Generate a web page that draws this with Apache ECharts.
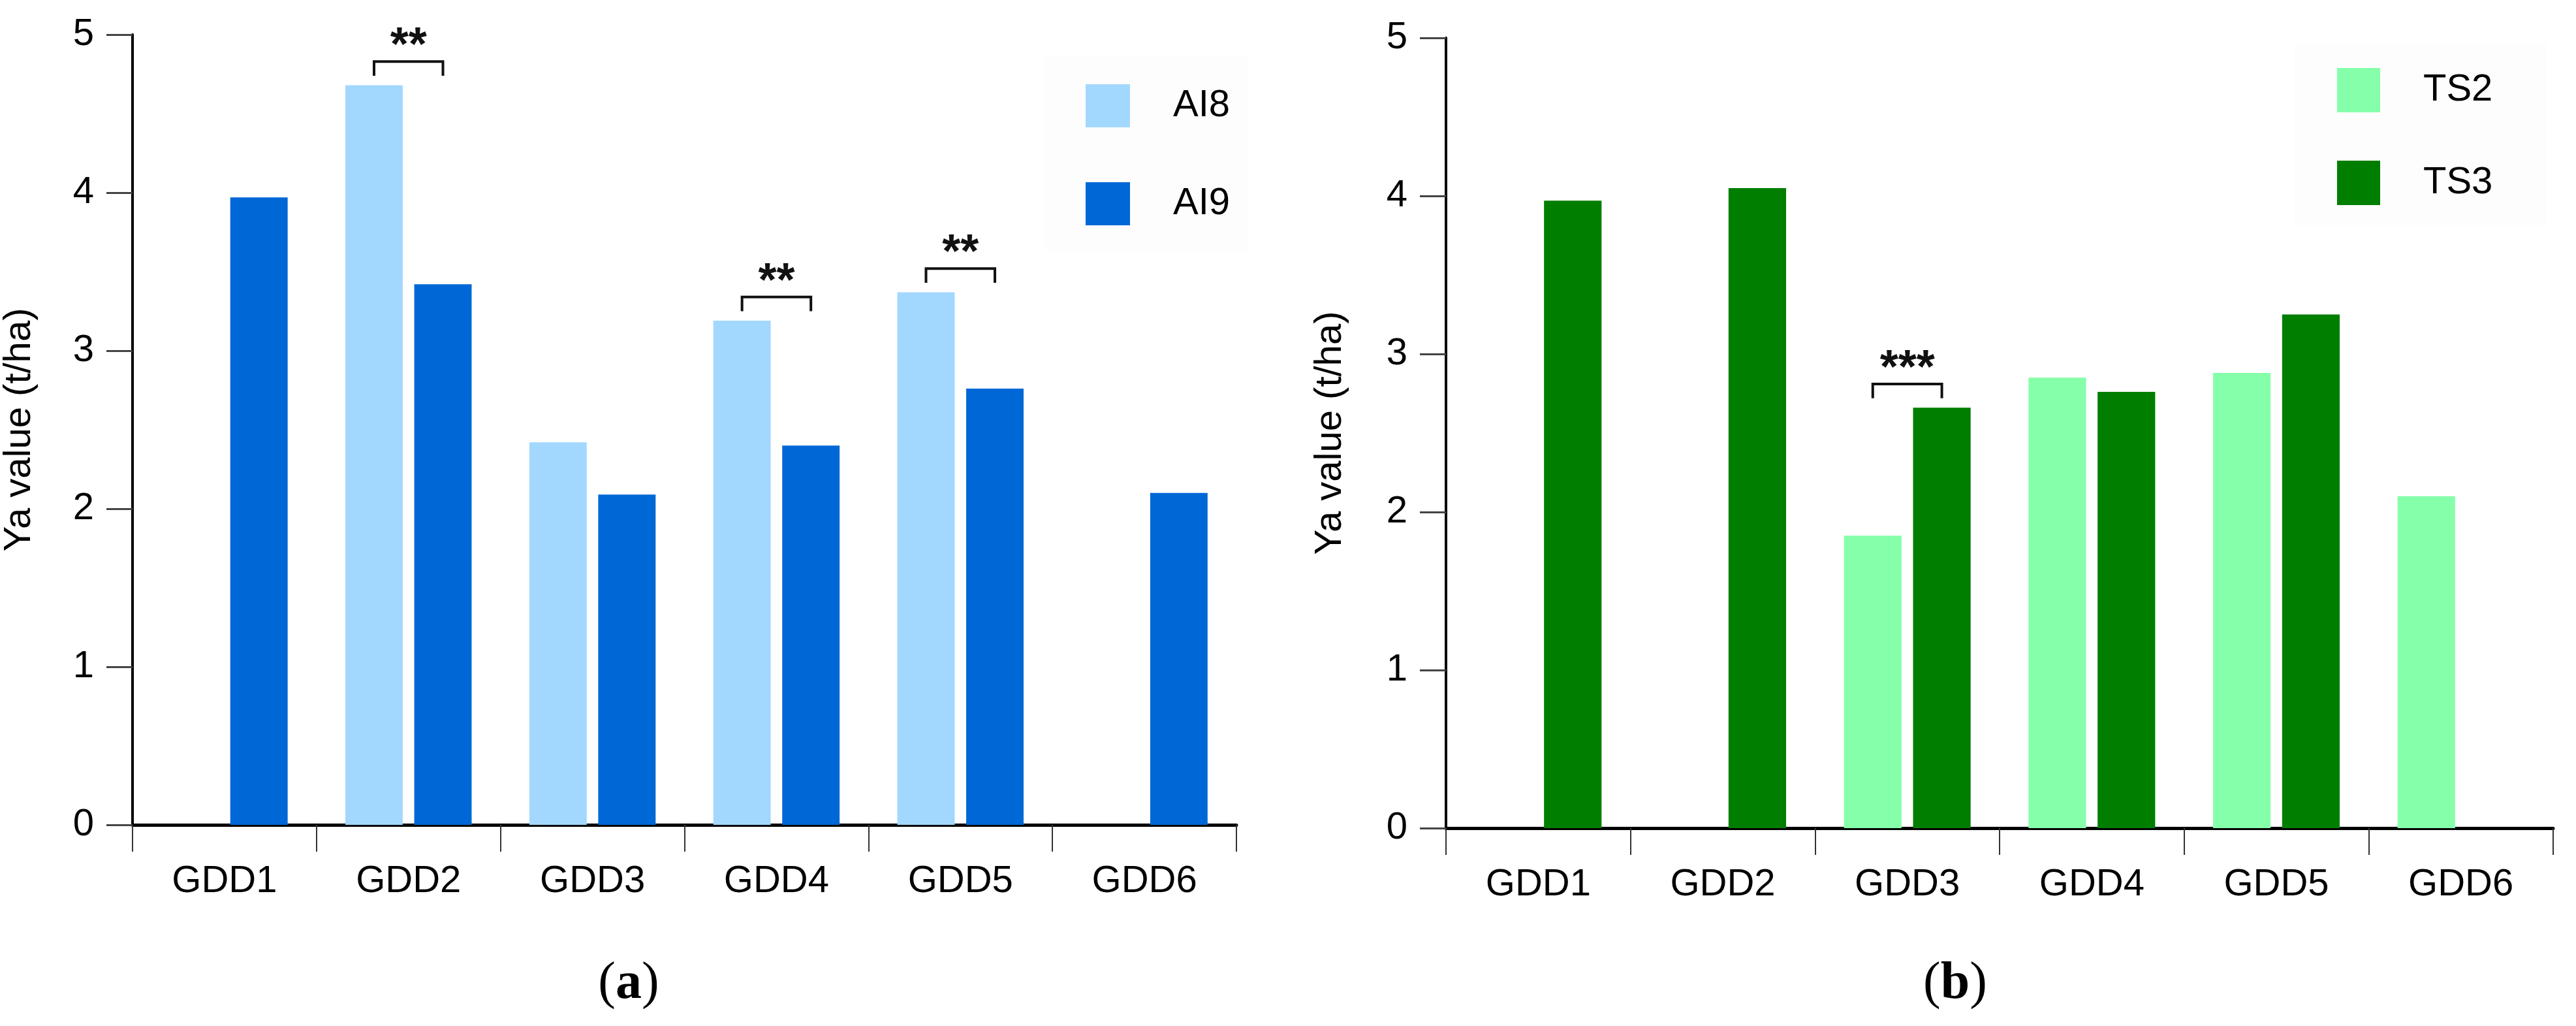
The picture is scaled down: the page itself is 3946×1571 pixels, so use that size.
<!DOCTYPE html>
<html>
<head>
<meta charset="utf-8">
<script src="https://cdn.jsdelivr.net/npm/echarts@6/dist/echarts.min.js"></script>
<style>
  html, body { margin: 0; padding: 0; background: #fff; }
  #chart { width: 3946px; height: 1571px; }
</style>
</head>
<body>
<div id="chart"></div>
<script>
// values
const categories = ['GDD1', 'GDD2', 'GDD3', 'GDD4', 'GDD5', 'GDD6'];
const ai8 = [null, 4.68, 2.42, 3.19, 3.37, null];
const ai9 = [3.97, 3.42, 2.09, 2.40, 2.76, 2.10];
const ts2 = [null, null, 1.85, 2.85, 2.88, 2.10];
const ts3 = [3.97, 4.05, 2.66, 2.76, 3.25, null];
const yTicks = [0, 1, 2, 3, 4, 5];
// significance brackets: [category index, stars]
const sigA = [[1, '**'], [3, '**'], [4, '**']];
const sigB = [[2, '***']];

const FONT = '"Liberation Sans", Arial, sans-serif';
const BAR_W = 0.312;   // bar width as share of category
const BAR_GAP = 0.2;

const chart = echarts.init(document.getElementById('chart'));

function xAxisOf(idx) {
    return {
        type: 'category',
        gridIndex: idx,
        data: categories,
        boundaryGap: true,
        axisLine: { lineStyle: { color: '#000', width: 5 } },
        axisTick: { show: true, length: 41, lineStyle: { color: '#333', width: 2 } },
        axisLabel: { margin: 58, fontSize: 58, color: '#000', fontFamily: FONT },
        splitLine: { show: false }
    };
}

function yAxisOf(idx, gap) {
    return {
        type: 'value',
        gridIndex: idx,
        min: yTicks[0],
        max: yTicks[yTicks.length - 1],
        interval: yTicks[1] - yTicks[0],
        name: 'Ya value (t/ha)',
        nameLocation: 'middle',
        nameRotate: 90,
        nameGap: gap,
        nameTextStyle: { fontSize: 58, color: '#000', fontFamily: FONT },
        axisLine: { show: true, lineStyle: { color: '#000', width: 4 } },
        axisTick: { show: true, length: 40, lineStyle: { color: '#444', width: 3 } },
        axisLabel: { margin: 59, fontSize: 58, color: '#000', fontFamily: FONT },
        splitLine: { show: false }
    };
}

// bracket + stars drawn from the bar values
function bracketSeries(idx, sig, a, b) {
    return {
        type: 'custom',
        xAxisIndex: idx,
        yAxisIndex: idx,
        clip: false,
        silent: true,
        data: sig.map(s => [s[0], Math.max(a[s[0]] || 0, b[s[0]] || 0)]),
        renderItem: function (params, api) {
            const cat = api.value(0);
            const top = api.value(1);
            const bw = api.size([1, 0])[0] * BAR_W;
            const off = bw * (1 + BAR_GAP) / 2;
            const cx = api.coord([cat, top])[0];
            const legY = api.coord([cat, top + 0.06])[1];
            const barY = api.coord([cat, top + 0.15])[1];
            const starY = api.coord([cat, top + 0.24])[1];
            return {
                type: 'group',
                children: [{
                    type: 'polyline',
                    shape: { points: [[cx - off, legY], [cx - off, barY], [cx + off, barY], [cx + off, legY]] },
                    style: { stroke: '#111', lineWidth: 4, fill: null }
                }, {
                    type: 'text',
                    x: cx,
                    y: starY,
                    style: {
                        text: sig[params.dataIndex][1],
                        font: 'bold 72px ' + FONT,
                        fill: '#111',
                        align: 'center',
                        verticalAlign: 'middle'
                    }
                }]
            };
        }
    };
}

function barSeries(name, data, color, idx) {
    return {
        name: name,
        type: 'bar',
        xAxisIndex: idx,
        yAxisIndex: idx,
        data: data,
        barWidth: (BAR_W * 100) + '%',
        barGap: (BAR_GAP * 100) + '%',
        itemStyle: { color: color }
    };
}

const option = {
    backgroundColor: '#fff',
    animation: false,
    grid: [
        { left: 199, right: 2052, top: 53, bottom: 308 },
        { left: 2215, right: 35, top: 58, bottom: 303 }
    ],
    xAxis: [xAxisOf(0), xAxisOf(1)],
    yAxis: [yAxisOf(0, 144), yAxisOf(1, 148)],
    legend: [{
        data: ['AI8', 'AI9'],
        orient: 'vertical',
        left: 1600,
        top: 85,
        padding: [44, 28, 39, 63],
        backgroundColor: '#fdfdfd',
        icon: 'rect',
        itemWidth: 68,
        itemHeight: 66,
        itemGap: 84,
        textStyle: { fontSize: 58, color: '#000', fontFamily: FONT, padding: [0, 0, 0, 61] }
    }, {
        data: ['TS2', 'TS3'],
        orient: 'vertical',
        left: 3514,
        top: 67,
        padding: [37, 82, 31, 66],
        backgroundColor: '#fdfdfd',
        icon: 'rect',
        itemWidth: 66,
        itemHeight: 68,
        itemGap: 74,
        textStyle: { fontSize: 58, color: '#000', fontFamily: FONT, padding: [0, 0, 0, 61] }
    }],
    graphic: [{
        type: 'text',
        x: 963,
        y: 1507,
        style: {
            text: '({b|a})',
            font: '80px "Liberation Serif", serif',
            fill: '#000',
            align: 'center',
            verticalAlign: 'middle',
            rich: { b: { fontWeight: 'bold', fontSize: 80, fontFamily: '"Liberation Serif", serif' } }
        }
    }, {
        type: 'text',
        x: 2995,
        y: 1507,
        style: {
            text: '({b|b})',
            font: '80px "Liberation Serif", serif',
            fill: '#000',
            align: 'center',
            verticalAlign: 'middle',
            rich: { b: { fontWeight: 'bold', fontSize: 80, fontFamily: '"Liberation Serif", serif' } }
        }
    }],
    series: [
        barSeries('AI8', ai8, '#a3d8fe', 0),
        barSeries('AI9', ai9, '#0068d6', 0),
        barSeries('TS2', ts2, '#86ffaa', 1),
        barSeries('TS3', ts3, '#007e00', 1),
        bracketSeries(0, sigA, ai8, ai9),
        bracketSeries(1, sigB, ts2, ts3)
    ]
};

chart.setOption(option);
</script>
</body>
</html>
